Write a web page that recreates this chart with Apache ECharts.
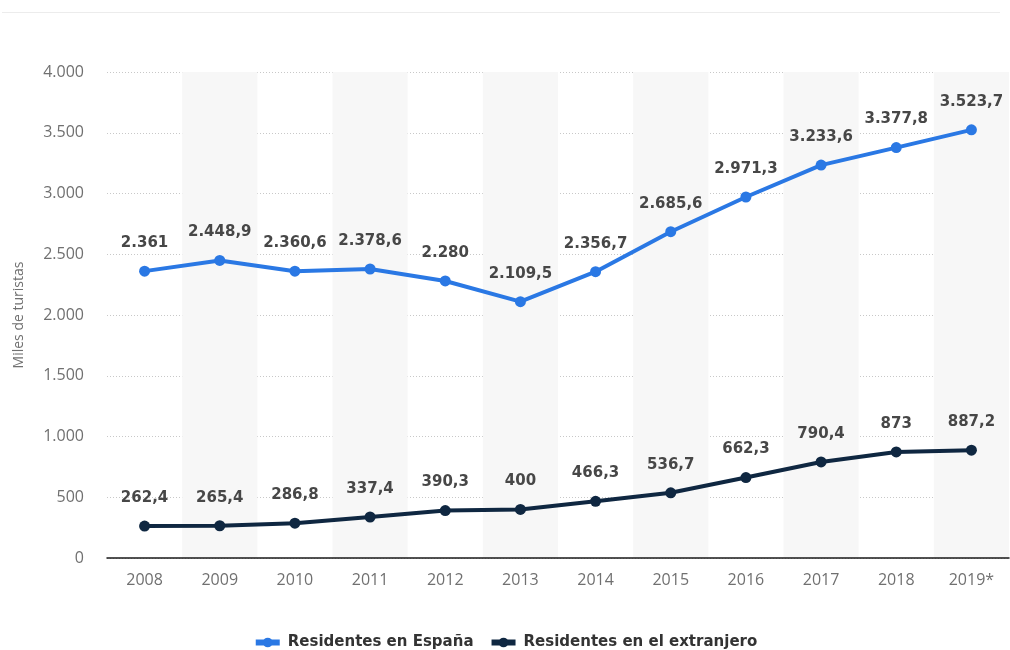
<!DOCTYPE html>
<html>
<head>
<meta charset="utf-8">
<script src="https://cdn.jsdelivr.net/npm/echarts@6/dist/echarts.min.js"></script>
<style>
  html, body { margin: 0; padding: 0; background: #ffffff; }
  #chart { width: 1010px; height: 650px; }
</style>
</head>
<body>
<div id="chart"></div>
<script>
// Años (2019 provisional)
const years = ['2008', '2009', '2010', '2011', '2012', '2013', '2014', '2015', '2016', '2017', '2018', '2019*'];
// Miles de turistas
const residentesEspana = [2361, 2448.9, 2360.6, 2378.6, 2280, 2109.5, 2356.7, 2685.6, 2971.3, 3233.6, 3377.8, 3523.7];
const residentesExtranjero = [262.4, 265.4, 286.8, 337.4, 390.3, 400, 466.3, 536.7, 662.3, 790.4, 873, 887.2];
const seriesNames = ['Residentes en España', 'Residentes en el extranjero'];
const yTicks = { min: 0, max: 4000, interval: 500 };

const BOLD_FONT = '"DejaVu Sans", Verdana, sans-serif';
const AXIS_FONT = '"Open Sans", "DejaVu Sans", sans-serif';

// Spanish number format: "." for thousands, "," for decimals
function fmtEs(v) {
  const neg = v < 0;
  v = Math.abs(v);
  const rounded = Math.round(v * 10) / 10;
  const intPart = Math.floor(rounded);
  const dec = Math.round((rounded - intPart) * 10);
  let s = String(intPart).replace(/\B(?=(\d{3})+(?!\d))/g, '.');
  if (dec !== 0) s += ',' + dec;
  return (neg ? '-' : '') + s;
}

const chart = echarts.init(document.getElementById('chart'), null, { renderer: 'canvas' });

function lineSeries(name, data, color) {
  return {
    name: name,
    type: 'line',
    data: data,
    symbol: 'circle',
    symbolSize: 11,
    lineStyle: { width: 4, color: color },
    itemStyle: { color: color },
    label: {
      show: true,
      position: 'top',
      distance: 15,
      formatter: p => fmtEs(p.value),
      fontFamily: BOLD_FONT,
      fontWeight: 'bold',
      fontSize: 15,
      color: '#474747'
    },
    emphasis: { disabled: true },
    animation: false
  };
}

chart.setOption({
  backgroundColor: '#ffffff',
  animation: false,
  graphic: [{
    type: 'line',
    shape: { x1: 2, y1: 12.5, x2: 1000, y2: 12.5 },
    style: { stroke: '#ececec', lineWidth: 1 }
  }],
  grid: { left: 107, right: 1, top: 72, bottom: 92, containLabel: false },
  legend: {
    data: seriesNames,
    top: 630,
    left: 'center',
    itemGap: 15,
    itemWidth: 24,
    itemHeight: 12,
    lineStyle: { width: 6 },
    textStyle: { fontFamily: BOLD_FONT, fontWeight: 'bold', fontSize: 15, color: '#333333', padding: [0, 0, 0, 3] }
  },
  xAxis: {
    type: 'category',
    data: years,
    boundaryGap: true,
    axisLine: { lineStyle: { color: '#1a1a1a', width: 1.5 } },
    axisTick: { show: false },
    axisLabel: { fontFamily: AXIS_FONT, fontSize: 16, color: '#707070', margin: 14 },
    splitLine: { show: false },
    splitArea: { show: true, areaStyle: { color: ['rgba(255,255,255,0)', '#f7f7f7'] } }
  },
  yAxis: {
    type: 'value',
    min: yTicks.min,
    max: yTicks.max,
    interval: yTicks.interval,
    name: 'Miles de turistas',
    nameLocation: 'middle',
    nameGap: 81,
    nameTextStyle: { fontFamily: AXIS_FONT, fontSize: 14, color: '#707070' },
    axisLine: { show: false },
    axisTick: { show: false },
    axisLabel: { fontFamily: AXIS_FONT, fontSize: 16, color: '#707070', margin: 23, formatter: v => fmtEs(v) },
    splitLine: { lineStyle: { color: '#c8c8c8', type: [1, 2], width: 1 } }
  },
  series: [
    lineSeries(seriesNames[0], residentesEspana, '#2a78e4'),
    lineSeries(seriesNames[1], residentesExtranjero, '#0f2741')
  ]
});
</script>
</body>
</html>
